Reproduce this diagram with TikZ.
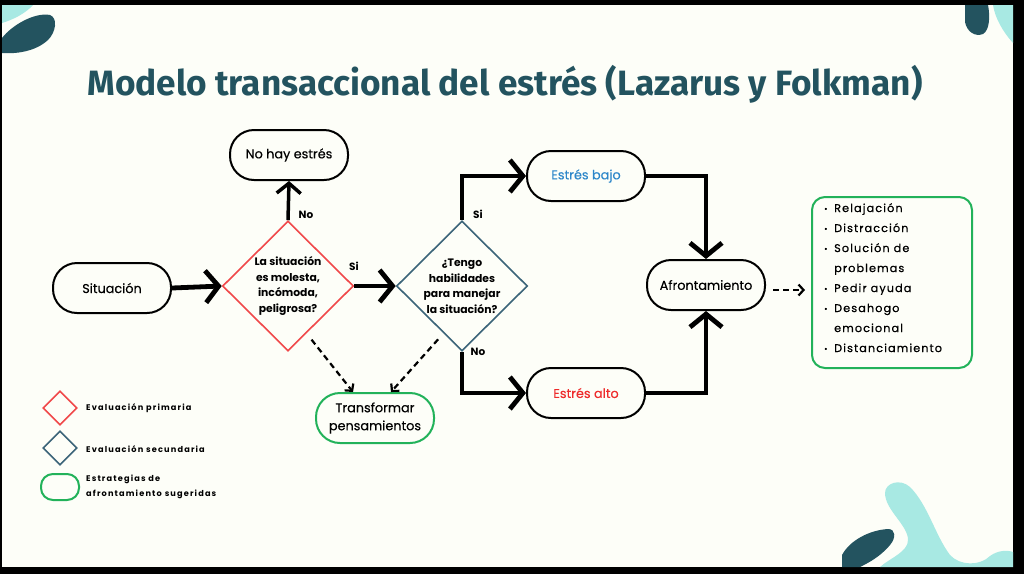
\documentclass[tikz,border=0pt]{standalone}
\usepackage{fontspec}
\setmainfont{Poppins}
\newfontfamily\titlefont{Fira Sans}
\newfontfamily\nodefont[FakeBold=0.3]{Poppins}
\newfontfamily\spacedfont[LetterSpace=10,FakeBold=0.6]{Poppins}
\newfontfamily\legfont[LetterSpace=14]{Poppins}
\usetikzlibrary{arrows.meta,shapes.geometric,calc}
\definecolor{bg}{HTML}{FDFEF8}
\definecolor{dteal}{HTML}{23535F}
\definecolor{lcyan}{HTML}{A8E9E3}
\definecolor{dred}{HTML}{F0484A}
\definecolor{dblue}{HTML}{3B6479}
\definecolor{dgreen}{HTML}{22B25A}
\definecolor{tblue}{HTML}{2C86C9}
\definecolor{tred}{HTML}{EE2B2B}
\newcommand{\mybul}{\makebox[10pt][l]{\raisebox{0.5pt}{\scalebox{0.7}{\textbullet}}}}
\tikzset{
  pill/.style={draw=black, line width=2pt, rounded corners=24pt, minimum width=118pt, minimum height=50pt, inner sep=0pt, font=\fontsize{12.8}{14}\selectfont\nodefont, fill=bg},
  gpill/.style={pill, draw=dgreen},
  dia/.style={diamond, aspect=1, draw, line width=1.6pt, minimum width=131pt, minimum height=130pt, inner sep=0pt},
  diatext/.style={align=center, font=\fontsize{10.8}{15.5}\selectfont\bfseries},
  lab/.style={font=\fontsize{10.5}{12}\selectfont\bfseries},
  thickarrow/.style={line width=4.8pt, -{Straight Barb[length=13pt,width=32pt]}},
  medarrow/.style={line width=3.5pt, -{Straight Barb[length=10pt,width=24pt]}},
  dasharrow/.style={line width=2.2pt, dash pattern=on 6pt off 4pt, -{Straight Barb[length=5pt,width=11pt]}},
  legtext/.style={anchor=west, font=\fontsize{8.2}{15}\selectfont\legfont\bfseries, align=left, inner sep=0pt}
}
\begin{document}
\begin{tikzpicture}[x=1pt,y=-1pt]
\useasboundingbox (0,0) rectangle (1024,574);
\fill[black] (0,0) rectangle (1024,574);
\fill[bg] (2,5) rectangle (1013,567);
% decorations
\fill[lcyan] (2,5) -- (33,5) .. controls (25,14) and (12,20) .. (2,23) -- cycle;
\fill[dteal] (2,38) .. controls (12,25) and (35,12) .. (50,15) .. controls (58,18) and (56,32) .. (48,40) .. controls (35,52) and (15,54) .. (2,53) -- cycle;
\fill[dteal] (965,5) -- (988,5) .. controls (990,15) and (990,30) .. (983,34) .. controls (975,37) and (967,32) .. (965,22) -- cycle;
\fill[lcyan] (993,5) -- (1013,5) -- (1013,43) .. controls (1003,32) and (995,18) .. (993,5) -- cycle;
\fill[lcyan] (880,567) .. controls (890,558) and (908,552) .. (908,540) .. controls (908,525) and (885,510) .. (885,493) .. controls (885,483) and (900,478) .. (910,487) .. controls (928,505) and (935,535) .. (950,555) .. controls (960,566) and (980,566) .. (990,556) .. controls (998,550) and (1008,550) .. (1013,552) -- (1013,567) -- cycle;
\fill[dteal] (842,567) -- (842,555) .. controls (850,540) and (870,530) .. (888,529) .. controls (896,529) and (896,538) .. (890,545) .. controls (880,557) and (868,563) .. (860,567) -- cycle;
% title
\node[text=dteal, inner sep=0pt] (title) at (505,84) {\resizebox{835pt}{!}{\titlefont\bfseries Modelo transaccional del estrés (Lazarus y Folkman)}};
% nodes
\node[pill] (nohay) at (289,155) {No hay estrés};
\node[pill] (sit) at (112,288) {Situación};
\node[dia, draw=dred] (d1) at (288,286) {};
\node[diatext] (d1t) at (288,286) {La situación\\es molesta,\\incómoda,\\peligrosa?};
\node[dia, draw=dblue] (d2) at (462,286) {};
\node[diatext] (d2t) at (462,286) {¿Tengo\\habilidades\\para manejar\\la situación?};
\node[pill, text=tblue] (bajo) at (586,176) {Estrés bajo};
\node[pill, text=tred] (alto) at (586,393) {Estrés alto};
\node[pill] (afr) at (706,285) {Afrontamiento};
\node[gpill, align=center, font=\fontsize{12.8}{18}\selectfont\nodefont] (tf) at (375,418) {Transformar\\pensamientos};
\node[draw=dgreen, line width=2pt, rounded corners=13pt, minimum width=160pt, minimum height=171pt, inner sep=0pt] (list) at (892,282.5) {};
\node[anchor=north west, inner sep=0pt, align=left, font=\fontsize{11.2}{20}\selectfont\spacedfont] (listt) at (824,203) {%
\mybul Relajación\\
\mybul Distracción\\
\mybul Solución de\\
\phantom{\mybul}problemas\\
\mybul Pedir ayuda\\
\mybul Desahogo\\
\phantom{\mybul}emocional\\
\mybul Distanciamiento};
% connectors
\draw[thickarrow] (sit.east) -- (d1.west);
\draw[medarrow] (d1.north) -- (nohay.south);
\draw[thickarrow] (d1.east) -- (d2.west);
\draw[thickarrow] (d2.north) |- (bajo.west);
\draw[thickarrow] (d2.south) |- (alto.west);
\draw[thickarrow] (bajo.east) -| (afr.north);
\draw[thickarrow] (alto.east) -| (afr.south);
\draw[dasharrow, shorten <=7pt, shorten >=6pt] ([yshift=-5pt]afr.east) -- ([yshift=-5pt]afr.east -| list.west);
\draw[dasharrow, shorten <=8pt] ($(d1.south)!0.28!(d1.east)$) -- ([xshift=-22pt]tf.north);
\draw[dasharrow, shorten <=8pt] ($(d2.south)!0.28!(d2.west)$) -- ([xshift=16pt]tf.north);
% labels
\node[lab] (l1) at (306,215) {No};
\node[lab] (l2) at (354,266) {Si};
\node[lab] (l3) at (478,214) {Si};
\node[lab] (l4) at (478,352) {No};
% legend
\node[diamond, aspect=1, draw=dred, line width=1.6pt, minimum size=34pt, inner sep=0pt] (lg1) at (60,408) {};
\node[diamond, aspect=1, draw=dblue, line width=1.6pt, minimum size=34pt, inner sep=0pt] (lg2) at (60,448) {};
\node[draw=dgreen, line width=2pt, rounded corners=12pt, minimum width=38pt, minimum height=26pt, inner sep=0pt] (lg3) at (60,487) {};
\node[legtext] (lt1) at (86,408) {Evaluación primaria};
\node[legtext] (lt2) at (86,449) {Evaluación secundaria};
\node[legtext] (lt3) at (86,487) {Estrategias de\\afrontamiento sugeridas};
\end{tikzpicture}
\end{document}
